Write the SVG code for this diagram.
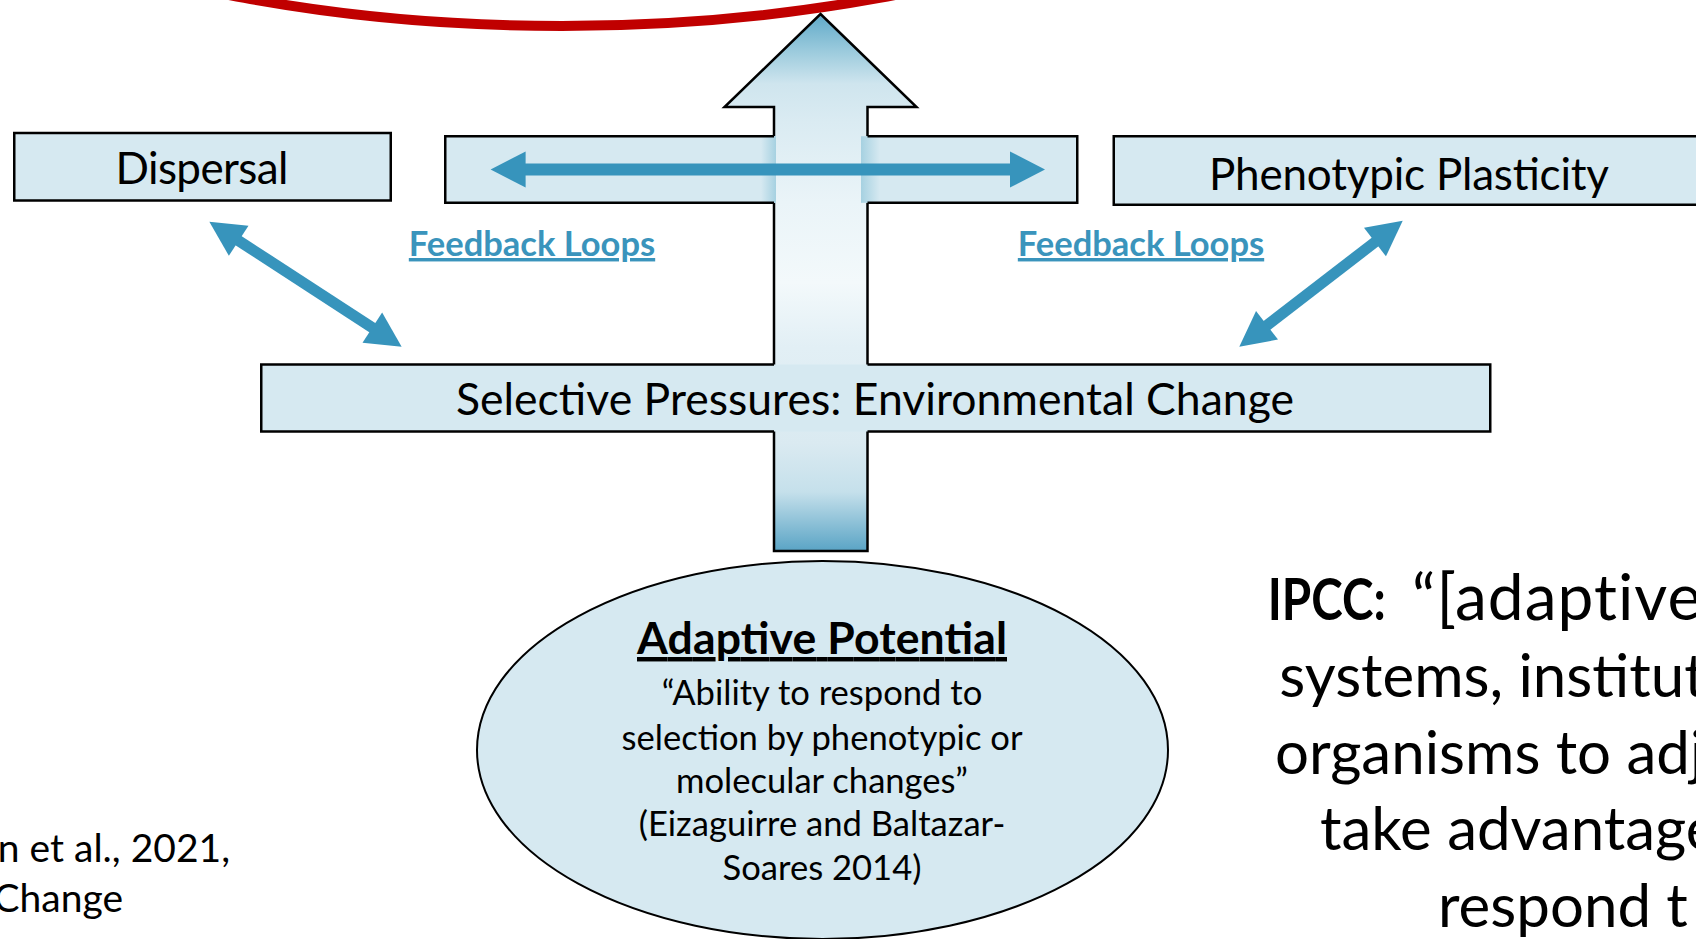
<svg xmlns="http://www.w3.org/2000/svg" width="1696" height="939" viewBox="0 0 1696 939">
  <defs>
    <style>
      .box { fill: #D6E9F1; }
      .edge { fill: none; stroke: #000; stroke-width: 2.5; stroke-linejoin: miter; }
      .txt { font-family: Lato, "Liberation Sans", sans-serif; fill: #000; }
      .fb { font-family: Lato, "Liberation Sans", sans-serif; fill: #3A94BC; font-weight: bold; font-size: 34.5px; text-decoration: underline; }
      .link { fill: none; stroke: #3794BC; }
    </style>
    <!-- vertical shading of the large up arrow: blue at both ends, pale in the middle -->
    <linearGradient id="shaftShade" gradientUnits="userSpaceOnUse" x1="0" y1="14" x2="0" y2="551">
      <stop offset="0" stop-color="#5FA9C8"/>
      <stop offset="0.07" stop-color="#9CCBDD"/>
      <stop offset="0.13" stop-color="#CFE5EE"/>
      <stop offset="0.2" stop-color="#DAEBF2"/>
      <stop offset="0.35" stop-color="#EAF4F8"/>
      <stop offset="0.5" stop-color="#F3F9FB"/>
      <stop offset="0.62" stop-color="#E2EFF5"/>
      <stop offset="0.8" stop-color="#DAEAF1"/>
      <stop offset="0.89" stop-color="#C5E0EB"/>
      <stop offset="1" stop-color="#5AA4C5"/>
    </linearGradient>
    <linearGradient id="fringeL" x1="0" y1="0" x2="1" y2="0">
      <stop offset="0" stop-color="#D6E9F1"/>
      <stop offset="1" stop-color="#A6D1E1"/>
    </linearGradient>
    <linearGradient id="fringeR" x1="0" y1="0" x2="1" y2="0">
      <stop offset="0" stop-color="#A6D1E1"/>
      <stop offset="1" stop-color="#D6E9F1"/>
    </linearGradient>
    <marker id="head" markerUnits="userSpaceOnUse" markerWidth="35" markerHeight="36" refX="10" refY="18" orient="auto-start-reverse" overflow="visible">
      <path d="M0,0 L35,18 L0,36 Z" fill="#3794BC"/>
    </marker>
  </defs>

  <!-- red arc at the top -->
  <g id="top-arc">
    <ellipse cx="562" cy="-374" rx="863" ry="400" fill="none" stroke="#C00000" stroke-width="10"/>
  </g>

  <!-- large upward arrow -->
  <g id="node-main-arrow">
    <path d="M820.5,14 L916.5,107 L867.5,107 L867.5,551 L774,551 L774,107 L724.5,107 Z" fill="url(#shaftShade)" stroke="#000" stroke-width="2.5"/>
  </g>

  <!-- box crossed by the arrow, holding the horizontal feedback arrow -->
  <g id="node-exchange">
    <rect class="box" x="445.25" y="136.25" width="330.75" height="66.5"/>
    <rect class="box" x="861" y="136.25" width="216.25" height="66.5"/>
    <rect x="761" y="136.25" width="15" height="66.5" fill="url(#fringeL)"/>
    <rect x="861" y="136.25" width="19" height="66.5" fill="url(#fringeR)"/>
    <path class="edge" d="M774,136.25 H445.25 V202.75 H774 M867.5,136.25 H1077.25 V202.75 H867.5"/>
  </g>

  <g id="node-dispersal">
    <rect class="box" x="14.25" y="133" width="376.5" height="67.5"/>
    <rect class="edge" x="14.25" y="133" width="376.5" height="67.5"/>
    <text class="txt" x="202" y="184" font-size="44" text-anchor="middle" textLength="173">Dispersal</text>
  </g>

  <g id="node-plasticity">
    <rect class="box" x="1113.75" y="136.25" width="600" height="68.5"/>
    <rect class="edge" x="1113.75" y="136.25" width="600" height="68.5"/>
    <text class="txt" x="1409" y="189.5" font-size="44" text-anchor="middle" textLength="400">Phenotypic Plasticity</text>
  </g>

  <g id="node-selective">
    <rect class="box" x="261.25" y="364.5" width="1229" height="67"/>
    <path class="edge" d="M774,364.5 H261.25 V431.5 H774 M867.5,364.5 H1490.25 V431.5 H867.5"/>
    <text class="txt" x="875" y="415" font-size="44.5" text-anchor="middle" textLength="838">Selective Pressures: Environmental Change</text>
  </g>

  <g id="node-adaptive">
    <ellipse cx="822.5" cy="750" rx="345.5" ry="189" fill="#D6E9F1" stroke="#000" stroke-width="2"/>
    <text class="txt" x="822" y="654" font-size="44.5" font-weight="bold" text-anchor="middle" text-decoration="underline" textLength="370">Adaptive Potential</text>
    <g class="txt" font-size="34.6" text-anchor="middle">
      <text x="822" y="705">“Ability to respond to</text>
      <text x="822" y="749.5">selection by phenotypic or</text>
      <text x="822" y="792.5">molecular changes”</text>
      <text x="822" y="836">(Eizaguirre and Baltazar-</text>
      <text x="822" y="879.5">Soares 2014)</text>
    </g>
  </g>

  <!-- feedback connectors -->
  <g id="connectors">
    <line class="link" x1="515.6" y1="169.5" x2="1020" y2="169.5" stroke-width="12" marker-start="url(#head)" marker-end="url(#head)"/>
    <line class="link" x1="230.3" y1="235.3" x2="380.7" y2="333.1" stroke-width="11" marker-start="url(#head)" marker-end="url(#head)"/>
    <line class="link" x1="1382.9" y1="236" x2="1259.1" y2="331.4" stroke-width="11" marker-start="url(#head)" marker-end="url(#head)"/>
    <text class="fb" x="532" y="256" text-anchor="middle">Feedback Loops</text>
    <text class="fb" x="1141" y="256" text-anchor="middle">Feedback Loops</text>
  </g>

  <!-- definition quote on the right -->
  <g id="ipcc-quote" class="txt" font-size="60">
    <text x="1267.7" y="620" font-weight="bold" font-size="58" textLength="118" lengthAdjust="spacingAndGlyphs">IPCC:</text>
    <text x="1412" y="620" font-size="64" letter-spacing="1">“[adaptive</text>
    <text x="1279.3" y="697">systems, institut</text>
    <text x="1275" y="773.5">organisms to adj</text>
    <text x="1320" y="850">take advantage</text>
    <text x="1438" y="927">respond t</text>
  </g>

  <!-- citation at the lower left -->
  <g id="citation" class="txt" font-size="39" text-anchor="end">
    <text x="230" y="862">n et al., 2021,</text>
    <text x="123" y="912">Change</text>
  </g>
</svg>
